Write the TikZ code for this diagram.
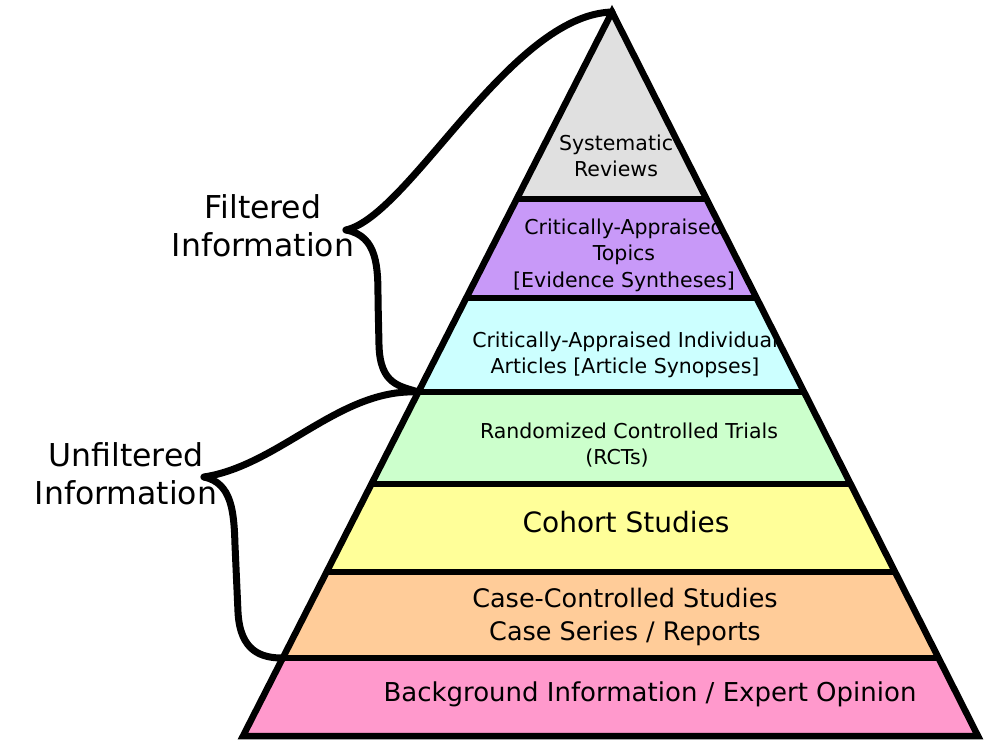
\documentclass[tikz,border=0pt]{standalone}
\usepackage{fontspec}
\setmainfont{DejaVu Sans}
\usetikzlibrary{calc}
\definecolor{cgray}{HTML}{E0E0E0}
\definecolor{cpurple}{HTML}{C899F8}
\definecolor{ccyan}{HTML}{CCFFFF}
\definecolor{cgreen}{HTML}{CCFFCC}
\definecolor{cyellow}{HTML}{FFFF99}
\definecolor{corange}{HTML}{FFCC99}
\definecolor{cpink}{HTML}{FF99CC}
\tikzset{
  outline/.style={line width=6.5pt, line join=miter, black},
  divider/.style={line width=6pt, black},
  brace/.style={line width=7pt, line cap=round, line join=round, black},
  smalltxt/.style={font=\fontsize{20.5}{26.5}\selectfont, align=center, inner sep=0pt},
  bigtxt/.style={font=\fontsize{25.5}{32.5}\selectfont, align=center, inner sep=0pt},
  labeltxt/.style={font=\fontsize{31.5}{38}\selectfont, align=center, inner sep=0pt},
}
\begin{document}
\begin{tikzpicture}[x=1pt,y=-1pt]
\useasboundingbox (0,0) rectangle (1000,750);
% pyramid corners
\coordinate (apex) at (612,12);
\coordinate (bl) at (243,736);
\coordinate (br) at (978,736);
% layer boundaries on left and right edges
\foreach \n/\f in {1/0.2583,2/0.3950,3/0.5249,4/0.6519,5/0.7735,6/0.8923}{
  \coordinate (L\n) at ($(apex)!\f!(bl)$);
  \coordinate (R\n) at ($(apex)!\f!(br)$);
}
% fills
\fill[cgray] (apex) -- (L1) -- (R1) -- cycle;
\fill[cpurple] (L1) -- (L2) -- (R2) -- (R1) -- cycle;
\fill[ccyan] (L2) -- (L3) -- (R3) -- (R2) -- cycle;
\fill[cgreen] (L3) -- (L4) -- (R4) -- (R3) -- cycle;
\fill[cyellow] (L4) -- (L5) -- (R5) -- (R4) -- cycle;
\fill[corange] (L5) -- (L6) -- (R6) -- (R5) -- cycle;
\fill[cpink] (L6) -- (bl) -- (br) -- (R6) -- cycle;
% texts, clipped to their layers
\begin{scope}
  \clip (apex) -- (L1) -- (R1) -- cycle;
  \node[smalltxt] (sys) at (616,156) {Systematic\\Reviews};
\end{scope}
\begin{scope}
  \clip (L1) -- (L2) -- (R2) -- (R1) -- cycle;
  \node[smalltxt] (cat) at (624,255) {Critically-Appraised\\Topics\hspace*{16pt}\\{[Evidence Syntheses]}};
\end{scope}
\begin{scope}
  \clip (L2) -- (L3) -- (R3) -- (R2) -- cycle;
  \node[smalltxt] (cai) at (625,355) {Critically-Appraised Individual\\Articles [Article Synopses]};
\end{scope}
\begin{scope}
  \clip (L3) -- (L4) -- (R4) -- (R3) -- cycle;
  \node[smalltxt] (rct) at (629,445) {Randomized Controlled Trials\\(RCTs)\hspace*{24pt}};
\end{scope}
\node[font=\fontsize{28}{34}\selectfont, inner sep=0pt] (coh) at (626,522) {Cohort Studies};
\node[bigtxt] (ccs) at (625,617) {Case-Controlled Studies\\Case Series / Reports};
\node[font=\fontsize{26}{32}\selectfont, inner sep=0pt] (bg) at (650,694) {Background Information / Expert Opinion};
% outlines
\draw[outline] (apex) -- (bl) -- (br) -- cycle;
\foreach \n in {1,...,6}{ \draw[divider] (L\n) -- (R\n); }
% labels
\node[labeltxt] (filt) at (263,226) {Filtered\\Information};
\node[labeltxt] (unfilt) at (126,474) {Unfiltered\\Information};
% braces
\coordinate (ftip) at (346,230);
\coordinate (utip) at (204,477);
\draw[brace] (ftip) .. controls (410,215) and (510,15) .. (apex);
\draw[brace] (ftip) .. controls (378,236) and (378,268) .. (378,300)
  -- (379,345) .. controls (380,385) and (400,386) .. (L3);
\draw[brace] (utip) .. controls (280,465) and (340,388) .. (L3);
\draw[brace] (utip) .. controls (232,483) and (234,512) .. (235,545)
  -- (238,612) .. controls (240,652) and (262,658) .. (L6);
\end{tikzpicture}
\end{document}
